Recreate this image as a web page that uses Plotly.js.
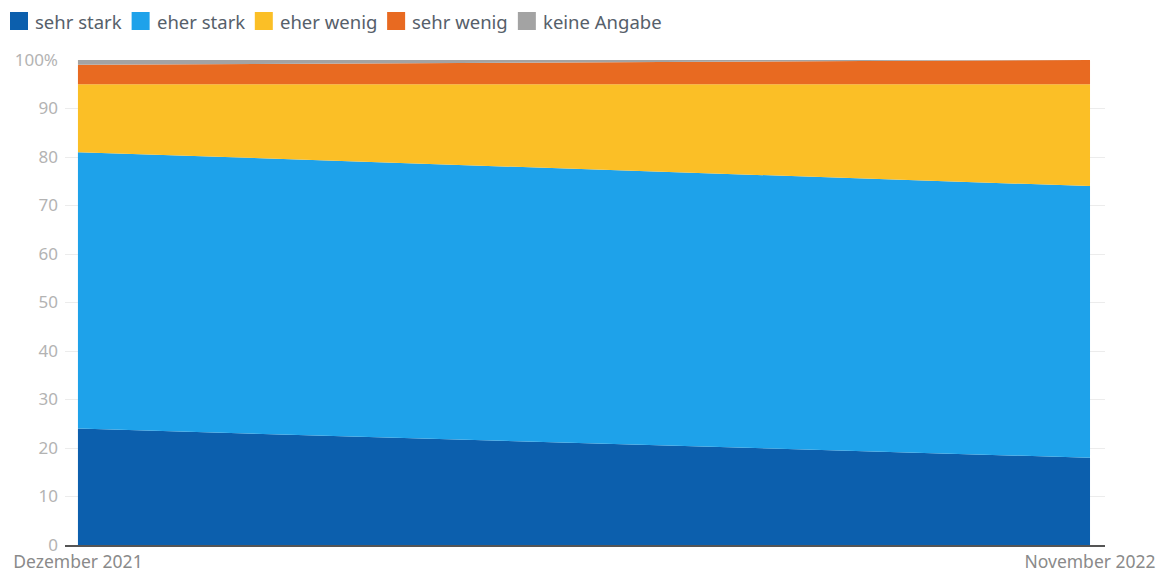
<!DOCTYPE html>
<html><head><meta charset="utf-8">
<script src="https://cdn.plot.ly/plotly-3.0.1.min.js"></script>
<style>body{margin:0;background:#fff}#c{width:1172px;height:571px}</style>
</head><body><div id="c"></div>
<script>
const periods = ["Dezember 2021", "November 2022"];
const xPos = [0, 1];
const seriesNames = ["sehr stark", "eher stark", "eher wenig", "sehr wenig", "keine Angabe"];
const sehrStark = [24, 18];
const eherStark = [57, 56];
const eherWenig = [14, 21];
const sehrWenig = [4, 5];
const keineAngabe = [1, 0];
const colors = ["#0c5fad", "#1ea2ea", "#fbbf26", "#e86a21", "#a3a3a3"];
const yTickVals = [0,10,20,30,40,50,60,70,80,90,100];
const yTickText = ["0","10","20","30","40","50","60","70","80","90","100%"];

const W = 1172, H = 571;
const M = {l: 65, r: 67, t: 60, b: 26};
const PW = W - M.l - M.r, PH = H - M.t - M.b;
const font = '"Noto Sans", sans-serif';
const legendSize = 18.5;

const vals = [sehrStark, eherStark, eherWenig, sehrWenig, keineAngabe];
const traces = vals.map((v,i)=>({
  x: xPos, y: v, name: seriesNames[i], type: "scatter", mode: "lines",
  stackgroup: "one", line: {width: 0, color: colors[i]}, fillcolor: colors[i],
  hoverinfo: "skip", showlegend: false
}));

// custom legend (squares + labels) laid out in pixels, converted to paper coords
const ctx = document.createElement("canvas").getContext("2d");
ctx.font = legendSize + "px 'Noto Sans'";
const px2x = p => (p - M.l) / PW;
const py2y = p => (H - M.b - p) / PH;
const shapes = [], annotations = [];
let cx = 10;
const sq = 18, cy = 21;
seriesNames.forEach((n, i) => {
  shapes.push({type: "rect", xref: "paper", yref: "paper",
    x0: px2x(cx), x1: px2x(cx + sq), y0: py2y(cy - sq/2), y1: py2y(cy + sq/2),
    fillcolor: colors[i], line: {width: 0}});
  const tx = cx + sq + 5;
  annotations.push({xref: "paper", yref: "paper", x: px2x(tx), y: py2y(cy),
    xanchor: "left", yanchor: "middle", text: n, showarrow: false,
    font: {family: font, size: legendSize, color: "#56606a"}});
  cx = tx + ctx.measureText(n).width + 12;
});

const layout = {
  width: W, height: H, margin: M,
  paper_bgcolor: "#fff", plot_bgcolor: "#fff",
  showlegend: false, shapes, annotations,
  xaxis: {range: [-0.0128, 1.0148], tickvals: xPos, ticktext: periods, showgrid: false,
    zeroline: false, showline: true, linecolor: "#555", linewidth: 1.5,
    tickfont: {family: font, size: 17.5, color: "#8a8a8a"}, ticks: "", fixedrange: true},
  yaxis: {range: [0, 100], tickvals: yTickVals, ticktext: yTickText, showgrid: true,
    gridcolor: "#ececec", zeroline: false, showline: false, ticks: "",
    tickfont: {family: font, size: 17, color: "#b3b3b3"}, ticklabelstandoff: 6, fixedrange: true}
};
Plotly.newPlot("c", traces, layout, {displayModeBar: false, staticPlot: true});
</script></body></html>
